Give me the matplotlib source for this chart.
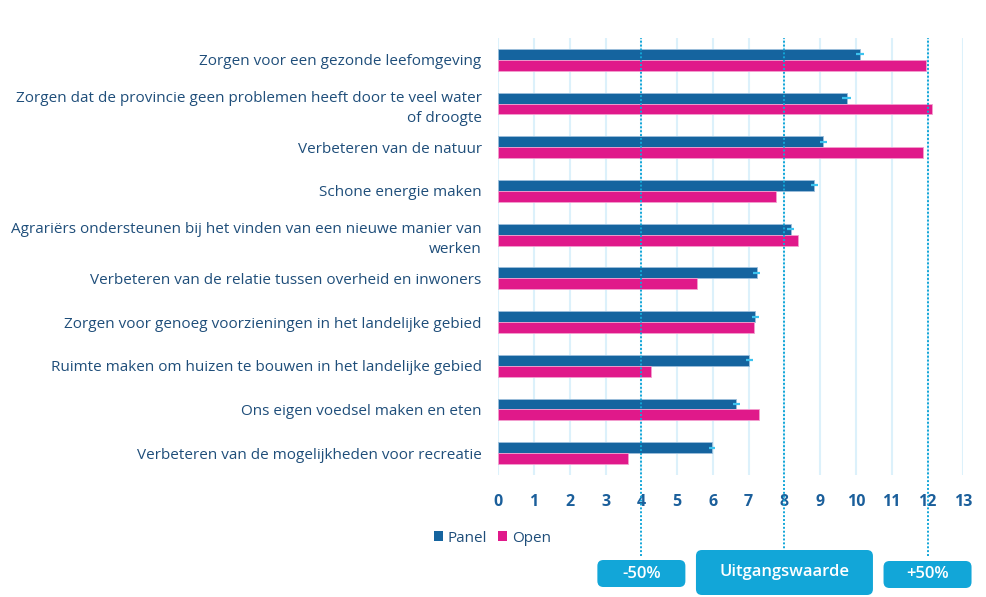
import matplotlib
matplotlib.use("Agg")
import matplotlib.pyplot as plt
from matplotlib.patches import FancyBboxPatch, Patch
import numpy as np

plt.rcParams['font.family'] = ['Open Sans', 'DejaVu Sans']

categories = [
    "Zorgen voor een gezonde leefomgeving",
    "Zorgen dat de provincie geen problemen heeft door te veel water\nof droogte",
    "Verbeteren van de natuur",
    "Schone energie maken",
    "Agrariërs ondersteunen bij het vinden van een nieuwe manier van\nwerken",
    "Verbeteren van de relatie tussen overheid en inwoners",
    "Zorgen voor genoeg voorzieningen in het landelijke gebied",
    "Ruimte maken om huizen te bouwen in het landelijke gebied",
    "Ons eigen voedsel maken en eten",
    "Verbeteren van de mogelijkheden voor recreatie",
]
panel = [10.11, 9.74, 9.08, 8.83, 8.17, 7.22, 7.18, 7.02, 6.65, 5.97]
panel_err = [0.12, 0.12, 0.10, 0.10, 0.10, 0.10, 0.10, 0.10, 0.10, 0.08]
open_ = [11.96, 12.13, 11.88, 7.77, 8.38, 5.55, 7.15, 4.26, 7.30, 3.62]
xticks = list(range(0, 14))
ref_lines = [4, 8, 12]
ref_labels = ["-50%", "Uitgangswaarde", "+50%"]
series_names = ["Panel", "Open"]

C_PANEL = "#15649f"
C_OPEN = "#e0198a"
C_TEXT = "#1f4e7a"
C_TICK = "#1b5f9b"
C_REF = "#12a6d8"
C_GRID = "#dcf1fb"

W, H = 986, 597
fig = plt.figure(figsize=(W / 100, H / 100), dpi=100)
ax = fig.add_axes([498.3 / W, 1 - 475 / H, (963.3 - 498.3) / W, (475 - 38) / H])

y = np.arange(len(categories))
bh = 0.25
ax.barh(y - bh / 2, panel, height=bh, color=C_PANEL, edgecolor="#9dbfdc",
        linewidth=0.6, zorder=3)
ax.barh(y + bh / 2, open_, height=bh, color=C_OPEN, edgecolor="#f3a0cf",
        linewidth=0.6, zorder=3)
ax.errorbar(panel, y - bh / 2, xerr=panel_err, fmt="none", ecolor="#3cc3ef",
            elinewidth=1.6, capsize=0, zorder=4)

ax.set_xlim(0, 13)
ax.set_ylim(len(categories) - 0.5, -0.5)
ax.set_xticks(xticks)
ax.set_xticklabels([str(t) for t in xticks], fontsize=11.5, fontweight="bold",
                   color=C_TICK)
ax.set_yticks(y)
ax.set_yticklabels(categories, fontsize=11, color=C_TEXT, linespacing=1.45)
ax.tick_params(axis="x", length=0, pad=14)
ax.tick_params(axis="y", length=0, pad=12)
for lbl in ax.get_yticklabels():
    lbl.set_multialignment("right")
for s in ax.spines.values():
    s.set_visible(False)
ax.grid(axis="x", color=C_GRID, linewidth=1.5, zorder=0)
ax.set_axisbelow(True)

for v in ref_lines:
    ax.axvline(v, ymin=-0.185, ymax=1, clip_on=False, color=C_REF,
               linestyle=(0, (1, 1)), linewidth=1.4, zorder=5)

# reference boxes (pixel sizes converted to inches)
dpi = fig.dpi
box_w = [88, 177, 88]
box_top = [560, 550, 561]
box_bot = [587, 595, 588]
for v, lab, bw, bt, bb in zip(ref_lines, ref_labels, box_w, box_top, box_bot):
    cx = ax.transData.transform((v, 0))[0] / dpi
    x0 = cx - bw / 2 / dpi
    y0 = (H - bb) / dpi
    hh = (bb - bt) / dpi
    patch = FancyBboxPatch((x0, y0), bw / dpi, hh,
                           boxstyle="round,pad=0,rounding_size=0.06",
                           transform=fig.dpi_scale_trans, facecolor=C_REF,
                           edgecolor="none", zorder=6)
    fig.add_artist(patch)
    fig.text(cx / (W / dpi), (y0 + hh / 2) / (H / dpi), lab, ha="center",
             va="center", color="white", fontsize=12, fontweight="semibold",
             zorder=7)

handles = [Patch(facecolor=C_PANEL), Patch(facecolor=C_OPEN)]
fig.legend(handles, series_names, loc="center left",
           bbox_to_anchor=(434 / W, 1 - 538 / H), ncol=2, frameon=False,
           handlelength=0.6, handleheight=0.6, handletextpad=0.3,
           columnspacing=0.7, fontsize=11, labelcolor=C_TEXT,
           borderaxespad=0, borderpad=0)

fig.savefig("out.png", dpi=100, facecolor="white")
